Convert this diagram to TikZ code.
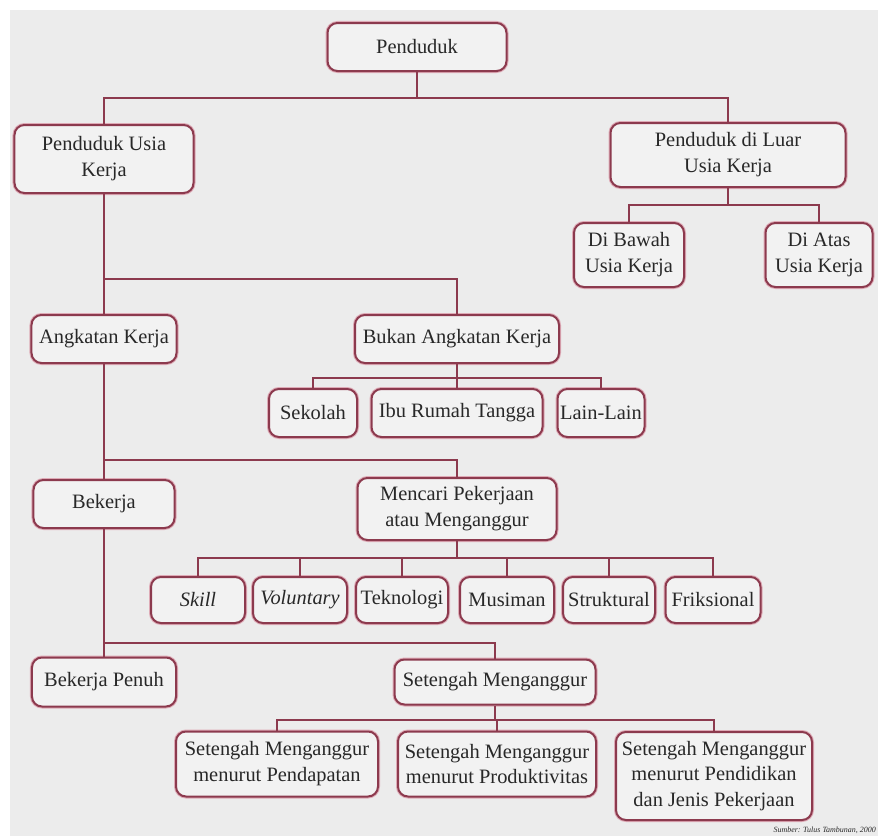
\documentclass[tikz,border=0pt]{standalone}
\usepackage{fontspec}
\setmainfont{Liberation Serif}
\definecolor{bggray}{RGB}{236,236,236}
\definecolor{boxred}{RGB}{140,58,78}
\definecolor{boxpink}{RGB}{222,170,182}
\definecolor{boxfill}{RGB}{242,242,242}
\definecolor{txt}{RGB}{40,40,40}
\begin{document}
\begin{tikzpicture}[x=1bp,y=-1bp,
  box/.style={rectangle, rounded corners=10bp, draw=boxred, line width=2bp,
    preaction={draw=boxpink, line width=4bp},
    fill=boxfill, align=center, text=txt, inner sep=1bp,
    font=\fontsize{20.5}{26}\selectfont},
  conn/.style={draw=boxred, line width=2.5bp}]
\useasboundingbox (0,0) rectangle (878,836);
\fill[white] (0,0) rectangle (878,836);
\fill[bggray] (10,10) rectangle (878,836);

% level 0/1
\node[box, minimum width=179bp, minimum height=48bp] (pend) at (417,47) {Penduduk};
\node[box, minimum width=179bp, minimum height=68bp] (puk) at (104,159) {Penduduk Usia\\Kerja};
\node[box, minimum width=235bp, minimum height=64bp] (luar) at (728,155) {Penduduk di Luar\\Usia Kerja};
\node[box, minimum width=110bp, minimum height=64bp] (bawah) at (629,255) {Di Bawah\\Usia Kerja};
\node[box, minimum width=107bp, minimum height=64bp] (atas) at (819,255) {Di Atas\\Usia Kerja};

% angkatan kerja level
\node[box, minimum width=145bp, minimum height=48bp] (ak) at (104,339) {Angkatan Kerja};
\node[box, minimum width=204bp, minimum height=48bp] (bukan) at (457,339) {Bukan Angkatan Kerja};
\node[box, minimum width=88bp, minimum height=48bp] (sekolah) at (313,413) {Sekolah};
\node[box, minimum width=171bp, minimum height=48bp] (ibu) at (457,413) {Ibu Rumah Tangga};
\node[box, minimum width=87bp, minimum height=48bp] (lain) at (601,413) {Lain-Lain};

% bekerja level
\node[box, minimum width=141bp, minimum height=48bp] (bek) at (104,504) {Bekerja};
\node[box, minimum width=199bp, minimum height=62bp] (mencari) at (457,509) {Mencari Pekerjaan\\atau Menganggur};
\node[box, minimum width=94bp, minimum height=46bp] (skill) at (198,600) {\textit{Skill}};
\node[box, minimum width=94bp, minimum height=46bp] (volun) at (300,600) {\textit{Voluntary}};
\node[box, minimum width=92bp, minimum height=46bp] (tekno) at (402,600) {Teknologi};
\node[box, minimum width=94bp, minimum height=46bp] (musim) at (507,600) {Musiman};
\node[box, minimum width=92bp, minimum height=46bp] (strukt) at (609,600) {Struktural};
\node[box, minimum width=95bp, minimum height=46bp] (friks) at (713,600) {Friksional};

% bekerja penuh level
\node[box, minimum width=144bp, minimum height=49bp] (bp) at (104,682) {Bekerja Penuh};
\node[box, minimum width=201bp, minimum height=45bp] (sm) at (495,682) {Setengah Menganggur};
\node[box, minimum width=202bp, minimum height=65bp] (sm1) at (277,764) {Setengah Menganggur\\menurut Pendapatan};
\node[box, minimum width=198bp, minimum height=65bp] (sm2) at (497,764) {Setengah Menganggur\\menurut Produktivitas};
\node[box, minimum width=196bp, minimum height=88bp] (sm3) at (714,776) {Setengah Menganggur\\menurut Pendidikan\\dan Jenis Pekerjaan};

\node[anchor=east, font=\fontsize{8}{9}\selectfont\itshape, text=txt, inner sep=0pt] (src) at (876,830) {Sumber: Tulus Tambunan, 2000};

% connectors
\draw[conn] (pend.south) -- (pend.south |- 0,98);
\draw[conn] (puk.north) |- (luar.north |- 0,98) -- (luar.north);

\draw[conn] (luar.south) -- (luar.south |- 0,205);
\draw[conn] (bawah.north) |- (atas.north |- 0,205) -- (atas.north);

\draw[conn] (puk.south) -- (ak.north);
\draw[conn] (puk.south |- 0,279) -| (bukan.north);

\draw[conn] (bukan.south) -- (ibu.north);
\draw[conn] (sekolah.north) |- (lain.north |- 0,378) -- (lain.north);

\draw[conn] (ak.south) -- (bek.north);
\draw[conn] (ak.south |- 0,460) -| (mencari.north);

\draw[conn] (mencari.south) -- (mencari.south |- 0,558);
\draw[conn] (skill.north) |- (friks.north |- 0,558) -- (friks.north);
\draw[conn] (volun.north) -- (volun.north |- 0,558);
\draw[conn] (tekno.north) -- (tekno.north |- 0,558);
\draw[conn] (musim.north) -- (musim.north |- 0,558);
\draw[conn] (strukt.north) -- (strukt.north |- 0,558);

\draw[conn] (bek.south) -- (bp.north);
\draw[conn] (bek.south |- 0,643) -| (sm.north);

\draw[conn] (sm.south) -- (sm.south |- 0,720);
\draw[conn] (sm1.north) |- (sm3.north |- 0,720) -- (sm3.north);
\draw[conn] (sm2.north) -- (sm2.north |- 0,720);
\end{tikzpicture}
\end{document}
